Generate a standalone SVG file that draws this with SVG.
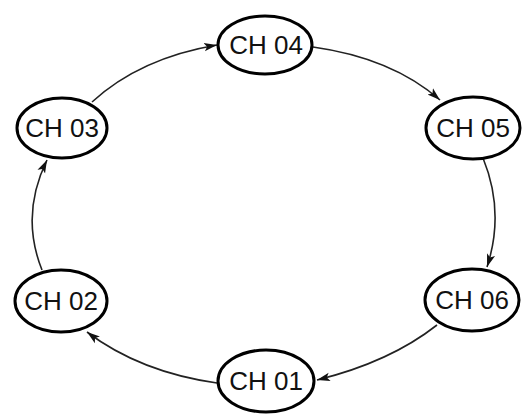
<svg xmlns="http://www.w3.org/2000/svg" width="526" height="418" viewBox="0 0 526 418">
<style>
.node ellipse{fill:#fff;stroke:#000;stroke-width:3}
.node text{font-family:"Liberation Sans",Arial,sans-serif;font-size:26px;fill:#111;text-anchor:middle}
.edge{fill:none;stroke:#222;stroke-width:1.6;marker-end:url(#arr)}
</style>
<defs>
<marker id="arr" markerUnits="userSpaceOnUse" markerWidth="14" markerHeight="10" refX="13" refY="5" orient="auto">
<path d="M0,0.8 L13,5 L0,9.2 L3,5 Z" fill="#111"/>
</marker>
</defs>
<rect width="526" height="418" fill="#fff"/>
<g id="connectors">
<path class="edge" d="M92,102 Q140,58 217,45"/>
<path class="edge" d="M313,47 Q392,58 440,100"/>
<path class="edge" d="M483,158 Q505,212 487,267"/>
<path class="edge" d="M437,325 Q390,362 317,380"/>
<path class="edge" d="M217,383 Q140,372 87,332"/>
<path class="edge" d="M42,270 Q20,215 47,160"/>
</g>
<g id="ch04" class="node"><ellipse cx="265" cy="45" rx="47" ry="29"/><text x="266" y="54">CH 04</text></g>
<g id="ch03" class="node"><ellipse cx="62" cy="128" rx="45" ry="30"/><text x="62" y="137">CH 03</text></g>
<g id="ch05" class="node"><ellipse cx="473" cy="128" rx="47" ry="31"/><text x="473" y="137">CH 05</text></g>
<g id="ch02" class="node"><ellipse cx="61" cy="301" rx="46" ry="31"/><text x="61" y="310">CH 02</text></g>
<g id="ch06" class="node"><ellipse cx="472" cy="300" rx="47" ry="31"/><text x="472" y="309">CH 06</text></g>
<g id="ch01" class="node"><ellipse cx="266" cy="381" rx="48" ry="31"/><text x="266" y="390">CH 01</text></g>
</svg>
